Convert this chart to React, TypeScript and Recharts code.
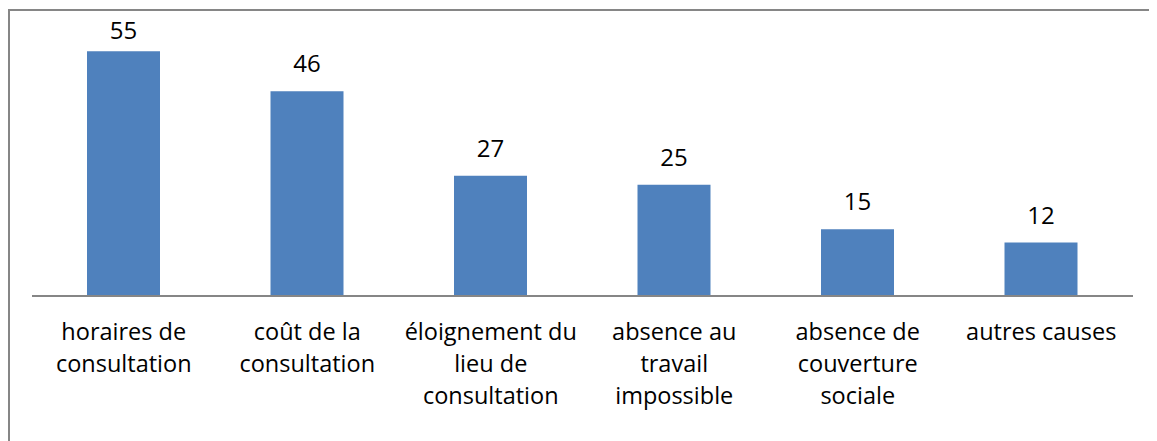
import React from 'react';
import { BarChart, Bar, XAxis, YAxis, LabelList } from 'recharts';

const categories = [
  'horaires de\nconsultation',
  'coût de la\nconsultation',
  'éloignement du\nlieu de\nconsultation',
  'absence au\ntravail\nimpossible',
  'absence de\ncouverture\nsociale',
  'autres causes',
];
const counts = [55, 46, 27, 25, 15, 12];

const data = categories.map((name, i) => ({ name, value: counts[i] }));

const FONT = '"Open Sans", Calibri, sans-serif';
const PLOT_TOP = 18;

const CategoryTick = (props: any) => {
  const { x, y, payload } = props;
  const lines = String(payload.value).split('\n');
  return (
    <text x={x} y={y + 44} textAnchor="middle" fontFamily={FONT} fontSize={23.5} fill="#000">
      {lines.map((line, i) => (
        <tspan key={i} x={x} dy={i === 0 ? 0 : 32}>
          {line}
        </tspan>
      ))}
    </text>
  );
};

// value above the bar, pushed down like Excel when it would leave the plot area
const ValueLabel = (props: any) => {
  const { x, y, width, value } = props;
  const baseline = Math.max(y - 19, PLOT_TOP + 10);
  return (
    <text x={x + width / 2} y={baseline} textAnchor="middle" fontFamily={FONT} fontSize={24} fill="#000">
      {value}
    </text>
  );
};

const App: React.FC = () => {
  return (
    <div
      style={{
        marginTop: 1,
        width: 1160,
        height: 480,
        borderTop: '2px solid #868686',
        borderLeft: '2px solid #868686',
        background: '#fff',
        overflow: 'hidden',
      }}
    >
      <BarChart
        width={1150}
        height={420}
        data={data}
        margin={{ top: PLOT_TOP, right: 27, left: 22, bottom: 0 }}
        barCategoryGap={0}
      >
        <YAxis hide domain={[0, 60]} />
        <XAxis
          dataKey="name"
          interval={0}
          height={135}
          tickSize={0}
          tickMargin={0}
          tickLine={false}
          axisLine={{ stroke: '#868686', strokeWidth: 2 }}
          tick={<CategoryTick />}
        />
        <Bar dataKey="value" fill="#4F81BD" barSize={73} isAnimationActive={false}>
          <LabelList dataKey="value" content={<ValueLabel />} />
        </Bar>
      </BarChart>
    </div>
  );
};

export default App;
